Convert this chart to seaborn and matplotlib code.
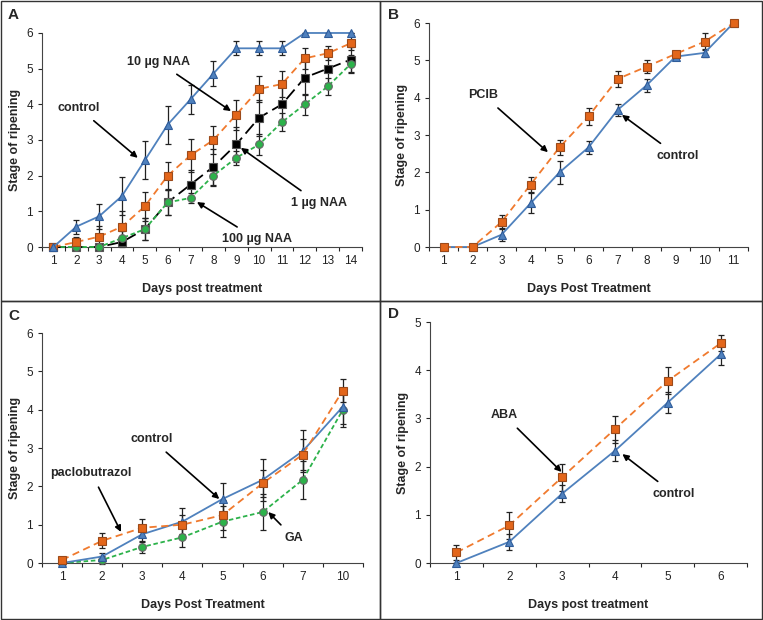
import numpy as np
import pandas as pd
import matplotlib
matplotlib.use("Agg")
import matplotlib.pyplot as plt
import seaborn as sns
from matplotlib.patches import Rectangle

sns.set_style("ticks")
plt.rcParams['font.family'] = ['Liberation Sans', 'DejaVu Sans']

# ---- Panel A: NAA ----
days_a = ["1", "2", "3", "4", "5", "6", "7", "8", "9", "10", "11", "12", "13", "14"]
ctrl_a = [0, 0.57, 0.86, 1.43, 2.43, 3.43, 4.14, 4.86, 5.57, 5.57, 5.57, 6, 6, 6]
ctrl_a_err = [0, 0.2, 0.35, 0.53, 0.53, 0.53, 0.4, 0.35, 0.2, 0.2, 0.2, 0, 0, 0]
naa10 = [0, 0.14, 0.29, 0.57, 1.14, 2.0, 2.57, 3.0, 3.71, 4.43, 4.57, 5.29, 5.43, 5.71]
naa10_err = [0, 0.15, 0.3, 0.45, 0.4, 0.38, 0.47, 0.38, 0.42, 0.37, 0.37, 0.3, 0.2, 0.2]
naa1 = [0, 0, 0, 0.14, 0.5, 1.25, 1.75, 2.25, 2.875, 3.625, 4.0, 4.75, 5.0, 5.25]
naa1_err = [0, 0, 0, 0.15, 0.3, 0.35, 0.4, 0.5, 0.5, 0.5, 0.55, 0.5, 0.4, 0.35]
naa100 = [0, 0, 0, 0.25, 0.5, 1.25, 1.375, 2.0, 2.5, 2.875, 3.5, 4.0, 4.5, 5.125]
naa100_err = [0, 0, 0, 0.2, 0.3, 0.35, 0.15, 0.3, 0.2, 0.3, 0.25, 0.3, 0.25, 0.25]

# ---- Panel B: PCIB ----
days_b = ["1", "2", "3", "4", "5", "6", "7", "8", "9", "10", "11"]
ctrl_b = [0, 0, 0.33, 1.17, 2.0, 2.67, 3.67, 4.33, 5.1, 5.2, 6]
ctrl_b_err = [0, 0, 0.17, 0.27, 0.3, 0.17, 0.17, 0.17, 0.1, 0.1, 0]
pcib = [0, 0, 0.67, 1.67, 2.67, 3.5, 4.5, 4.83, 5.17, 5.5, 6]
pcib_err = [0, 0, 0.2, 0.2, 0.2, 0.22, 0.22, 0.17, 0.08, 0.22, 0]

# ---- Panel C: paclobutrazol / GA ----
days_c = ["1", "2", "3", "4", "5", "6", "7", "10"]
ctrl_c = [0, 0.17, 0.75, 1.08, 1.67, 2.17, 2.92, 4.08]
ctrl_c_err = [0, 0.1, 0.2, 0.35, 0.42, 0.55, 0.55, 0.45]
paclo = [0.08, 0.58, 0.92, 1.0, 1.25, 2.08, 2.83, 4.5]
paclo_err = [0, 0.2, 0.22, 0.25, 0.4, 0.35, 0.4, 0.3]
ga = [0, 0.08, 0.42, 0.67, 1.08, 1.33, 2.17, 4.0]
ga_err = [0, 0.1, 0.15, 0.25, 0.4, 0.48, 0.5, 0.45]

# ---- Panel D: ABA ----
days_d = ["1", "2", "3", "4", "5", "6"]
ctrl_d = [0, 0.44, 1.44, 2.33, 3.33, 4.33]
ctrl_d_err = [0, 0.17, 0.17, 0.22, 0.22, 0.22]
aba = [0.22, 0.78, 1.78, 2.78, 3.78, 4.56]
aba_err = [0.15, 0.28, 0.28, 0.28, 0.28, 0.17]

BLUE = "#4f81bd"
ORANGE = "#f07a2e"
ORANGE_M = "#e3661a"
GREEN = "#2cb24a"

styles = {
    "control": dict(color=BLUE, marker="^", ms=6, mfc=BLUE, mec="#2f5c9a", lw=1.3, dashes=None),
    "orange": dict(color=ORANGE, marker="s", ms=5.5, mfc=ORANGE_M, mec="#9c4a1a", lw=1.3, dashes=(4, 2.5)),
    "black": dict(color="black", marker="s", ms=5.5, mfc="black", mec="#555555", lw=1.3, dashes=(7, 3)),
    "green": dict(color=GREEN, marker="o", ms=5.5, mfc=GREEN, mec="#666666", lw=1.3, dashes=(2.5, 1.5)),
}


def draw(ax, days, vals, errs, key):
    st = styles[key]
    x = np.arange(1, len(days) + 1)
    df = pd.DataFrame({"x": x, "y": vals})
    eb = ax.errorbar(x, vals, yerr=errs, fmt="none", ecolor="#222222", elinewidth=0.9,
                     capsize=2.5, capthick=0.9, zorder=2)
    for art in eb.get_children():
        art.set_clip_on(False)
    kw = dict(color=st["color"], marker=st["marker"], markersize=st["ms"],
              markerfacecolor=st["mfc"], markeredgecolor=st["mec"], markeredgewidth=0.8,
              linewidth=st["lw"], zorder=3)
    sns.lineplot(data=df, x="x", y="y", ax=ax, **kw)
    line = ax.lines[-1]
    line.set_clip_on(False)
    if st["dashes"] is not None:
        line.set_dashes(st["dashes"])


def setup(ax, days, ymax, xlabel):
    n = len(days)
    ax.set_xlim(0.5, n + 0.5)
    ax.set_ylim(0, ymax)
    ax.set_xticks(np.arange(1, n + 1))
    ax.set_xticklabels(days, fontsize=8.5, color="#222222")
    ax.set_xticks(np.arange(0.5, n + 1), minor=True)
    ax.tick_params(axis="x", which="major", length=0, pad=6)
    ax.tick_params(axis="x", which="minor", length=3, width=0.8, direction="out")
    ax.set_yticks(np.arange(0, ymax + 1))
    ax.tick_params(axis="y", length=3, width=0.8, labelsize=8.5, labelcolor="#222222")
    sns.despine(ax=ax)
    for s in ("left", "bottom"):
        ax.spines[s].set_color("#444444")
        ax.spines[s].set_linewidth(0.8)
    ax.set_xlabel(xlabel, fontsize=9, fontweight="bold", labelpad=11)
    ax.set_ylabel("Stage of ripening", fontsize=9, fontweight="bold", labelpad=4)


def note(ax, text, xy, xytext):
    ax.annotate(text, xy=xy, xytext=xytext, fontsize=9, fontweight="bold",
                ha="center", va="center",
                arrowprops=dict(arrowstyle="-|>", color="black", lw=1.2,
                                mutation_scale=9, shrinkA=4, shrinkB=0))


fig = plt.figure(figsize=(7.63, 6.20), dpi=100)

axA = fig.add_axes([0.055, 0.6016, 0.4194, 0.3452])
axB = fig.add_axes([0.5623, 0.6016, 0.4181, 0.3613])
axC = fig.add_axes([0.055, 0.0919, 0.4207, 0.3710])
axD = fig.add_axes([0.5636, 0.0919, 0.4155, 0.3887])

# Panel A
draw(axA, days_a, naa1, naa1_err, "black")
draw(axA, days_a, naa100, naa100_err, "green")
draw(axA, days_a, naa10, naa10_err, "orange")
draw(axA, days_a, ctrl_a, ctrl_a_err, "control")
setup(axA, days_a, 6, "Days post treatment")
note(axA, "control", (4.69, 2.5), (2.1, 3.9))
note(axA, "10 µg NAA", (8.77, 3.81), (5.6, 5.19))
note(axA, "1 µg NAA", (9.2, 2.78), (12.6, 1.23))
note(axA, "100 µg NAA", (7.28, 1.26), (9.9, 0.22))

# Panel B
draw(axB, days_b, ctrl_b, ctrl_b_err, "control")
draw(axB, days_b, pcib, pcib_err, "orange")
setup(axB, days_b, 6, "Days Post Treatment")
note(axB, "PCIB", (4.6, 2.54), (2.37, 4.07))
note(axB, "control", (7.15, 3.54), (9.07, 2.44))

# Panel C
draw(axC, days_c, ga, ga_err, "green")
draw(axC, days_c, ctrl_c, ctrl_c_err, "control")
draw(axC, days_c, paclo, paclo_err, "orange")
setup(axC, days_c, 6, "Days Post Treatment")
note(axC, "control", (4.92, 1.67), (3.23, 3.23))
note(axC, "paclobutrazol", (2.47, 0.81), (1.73, 2.35))
note(axC, "GA", (6.14, 1.33), (6.78, 0.65))

# Panel D
draw(axD, days_d, ctrl_d, ctrl_d_err, "control")
draw(axD, days_d, aba, aba_err, "orange")
setup(axD, days_d, 5, "Days post treatment")
note(axD, "ABA", (2.99, 1.89), (1.9, 3.07))
note(axD, "control", (4.14, 2.26), (5.12, 1.43))

# panel letters
for lab, (px, py) in zip("ABCD", [(8, 15), (388, 15), (8, 316), (388, 314)]):
    fig.text(px / 763, 1 - py / 620, lab, fontsize=11, fontweight="bold", va="center", ha="left")

# panel borders
for (x0, y0, x1, y1) in [(1, 1, 380, 301), (380, 1, 762, 301), (1, 301, 380, 619), (380, 301, 762, 619)]:
    fig.patches.append(Rectangle((x0 / 763, 1 - y1 / 620), (x1 - x0) / 763, (y1 - y0) / 620,
                                 transform=fig.transFigure, fill=False, ec="#333333", lw=1.0))

fig.savefig("out.png", dpi=100)
